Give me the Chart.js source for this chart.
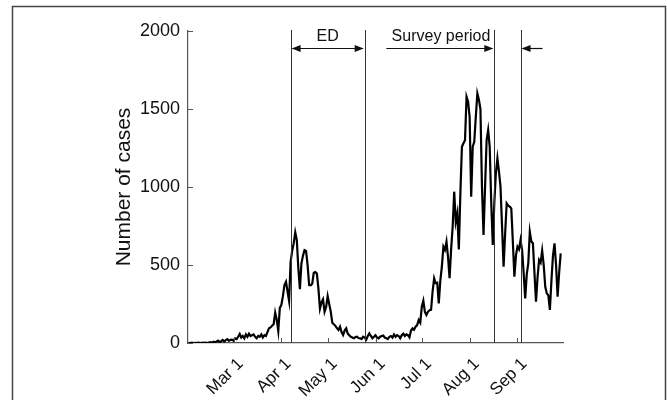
<!DOCTYPE html>
<html><head><meta charset="utf-8">
<script src="https://cdn.jsdelivr.net/npm/chart.js@4.4.1/dist/chart.umd.min.js"></script>
<style>html,body{margin:0;padding:0;background:#fff;}canvas{display:block;}</style>
</head><body>
<canvas id="c" width="667" height="400"></canvas>
<script>
// Daily number of cases, day 0 = Feb 1
const casesFeb = [1,0,2,0,1,0,2,1,0,3,1,2,0,3,5,2,8,4,10,15,6,12,20,10,18,25,14,20,22];
const casesMar = [15,30,25,40,58,35,45,30,55,40,60,45,50,55,40,30,45,40,55,35,50,45,70,95,100,110,120,195,150,77,225];
const casesApr = [244,300,372,393,330,270,520,590,640,710,660,480,345,510,560,595,590,500,372,370,380,450,455,445,350,220,260,280,200,230];
const casesMay = [300,250,201,130,120,110,95,83,105,70,51,80,94,60,50,40,35,30,38,40,32,30,25,40,35,22,45,62,45,30,40];
const casesJun = [50,35,30,40,45,48,35,30,25,40,45,35,55,40,50,45,30,50,60,45,55,50,36,80,94,85,105,115,147,130];
const casesJul = [233,271,200,180,200,210,212,330,415,383,386,254,400,489,617,596,649,550,415,600,745,970,777,831,600,960,1258,1280,1300,1579,1547];
const casesAug = [1450,938,1258,1290,1450,1600,1560,1500,1000,692,1000,1300,1365,1258,900,628,900,1088,1184,1100,1002,750,489,700,895,880,874,863,650,425,560];
const casesSep = [617,600,660,596,450,286,440,511,713,650,639,450,265,420,532,515,592,500,360,318,305,212,400,560,639,500,297,450,575];
const dailyCases = [].concat(casesFeb, casesMar, casesApr, casesMay, casesJun, casesJul, casesAug, casesSep);

const monthTickDays = [29, 60, 90, 121, 151, 182, 213];
const monthTickLabels = ['Mar 1', 'Apr 1', 'May 1', 'Jun 1', 'Jul 1', 'Aug 1', 'Sep 1'];
const yTickValues = [0, 500, 1000, 1500, 2000];
const edPeriod = [66, 114];        // Apr 7 – May 25
const surveyPeriod = [198, 215];   // survey window markers
const edLabel = 'ED';
const surveyLabel = 'Survey period';
const yTitle = 'Number of cases';

const FONT = '"Liberation Sans", Arial, Helvetica, sans-serif';

function arrowHead(ctx, x, y, dir) {
  ctx.beginPath();
  ctx.moveTo(x, y);
  ctx.lineTo(x - dir * 9, y - 3.5);
  ctx.lineTo(x - dir * 9, y + 3.5);
  ctx.closePath();
  ctx.fill();
}

const overlay = {
  id: 'overlay',
  beforeDraw(chart) {
    const ctx = chart.ctx;
    ctx.save();
    ctx.strokeStyle = '#444';
    ctx.lineWidth = 1.5;
    ctx.beginPath();
    ctx.moveTo(12.5, 420);
    ctx.lineTo(12.5, 6.5);
    ctx.lineTo(665.5, 6.5);
    ctx.lineTo(665.5, 420);
    ctx.stroke();
    ctx.restore();
  },
  afterDraw(chart) {
    const ctx = chart.ctx;
    const xs = chart.scales.x, ys = chart.scales.y;
    const a = chart.chartArea;
    ctx.save();
    // inward ticks
    ctx.strokeStyle = '#555';
    ctx.lineWidth = 1;
    ctx.beginPath();
    monthTickDays.forEach(d => {
      const px = Math.round(xs.getPixelForValue(d)) + 0.5;
      ctx.moveTo(px, a.bottom);
      ctx.lineTo(px, a.bottom - 5);
    });
    yTickValues.forEach(v => {
      const py = Math.round(ys.getPixelForValue(v)) + 0.5;
      ctx.moveTo(a.left, py);
      ctx.lineTo(a.left + 5, py);
    });
    ctx.stroke();
    // vertical event lines
    ctx.strokeStyle = '#333';
    ctx.lineWidth = 1;
    ctx.beginPath();
    edPeriod.concat(surveyPeriod).forEach(d => {
      const px = Math.round(xs.getPixelForValue(d)) + 0.5;
      ctx.moveTo(px, a.top - 1);
      ctx.lineTo(px, a.bottom);
    });
    ctx.stroke();
    // arrows
    const ay = a.top + 17.5;
    ctx.strokeStyle = '#111';
    ctx.fillStyle = '#111';
    ctx.lineWidth = 1.2;
    const e0 = xs.getPixelForValue(edPeriod[0]), e1 = xs.getPixelForValue(edPeriod[1]);
    ctx.beginPath(); ctx.moveTo(e0 + 2, ay); ctx.lineTo(e1 - 2, ay); ctx.stroke();
    arrowHead(ctx, e0 + 1, ay, -1);
    arrowHead(ctx, e1 - 1, ay, 1);
    const s0 = xs.getPixelForValue(surveyPeriod[0]), s1 = xs.getPixelForValue(surveyPeriod[1]);
    ctx.beginPath(); ctx.moveTo(s0 - 108, ay); ctx.lineTo(s0 - 2, ay); ctx.stroke();
    arrowHead(ctx, s0 - 1, ay, 1);
    ctx.beginPath(); ctx.moveTo(s1 + 22, ay); ctx.lineTo(s1 + 2, ay); ctx.stroke();
    arrowHead(ctx, s1 + 1, ay, -1);
    // labels
    ctx.fillStyle = '#111';
    ctx.font = '16px ' + FONT;
    ctx.textBaseline = 'middle';
    ctx.textAlign = 'center';
    ctx.fillText(edLabel, (e0 + e1) / 2, a.top + 6);
    ctx.textAlign = 'right';
    ctx.fillText(surveyLabel, s0 - 4, a.top + 6);
    ctx.restore();
  }
};

new Chart(document.getElementById('c'), {
  type: 'line',
  data: {
    datasets: [{
      data: dailyCases.map((v, i) => ({ x: i, y: v })),
      borderColor: '#000',
      borderWidth: 2.2,
      pointRadius: 0,
      tension: 0,
      fill: false
    }]
  },
  options: {
    responsive: false,
    animation: false,
    devicePixelRatio: 1,
    layout: { padding: { left: 100, top: 31, right: 104, bottom: 0 } },
    plugins: { legend: { display: false }, tooltip: { enabled: false } },
    scales: {
      x: {
        type: 'linear',
        min: -0.5,
        max: 242.5,
        afterBuildTicks: (s) => { s.ticks = monthTickDays.map(v => ({ value: v })); },
        afterFit: (s) => { s.height = 57; },
        grid: { display: true, drawOnChartArea: false, drawTicks: false, color: '#555' },
        border: { display: true, color: '#555', width: 1.2 },
        ticks: {
          autoSkip: false,
          minRotation: 45,
          maxRotation: 45,
          padding: 11,
          labelOffset: 7,
          color: '#111',
          font: { family: FONT, size: 17 },
          callback: (v) => {
            const i = monthTickDays.indexOf(v);
            return i >= 0 ? monthTickLabels[i] : '';
          }
        }
      },
      y: {
        min: 0,
        max: 2000,
        afterBuildTicks: (s) => { s.ticks = yTickValues.map(v => ({ value: v })); },
        afterFit: (s) => { s.width = 88; },
        grid: { display: true, drawOnChartArea: false, drawTicks: false, color: '#555' },
        border: { display: true, color: '#555', width: 1.2 },
        ticks: {
          padding: 8,
          color: '#111',
          font: { family: FONT, size: 18 },
          callback: (v) => String(v)
        },
        title: {
          display: true,
          text: yTitle,
          color: '#111',
          font: { family: FONT, size: 21, weight: 'normal' },
          padding: { top: 12, bottom: 0 }
        }
      }
    }
  },
  plugins: [overlay]
});
</script>
</body></html>
